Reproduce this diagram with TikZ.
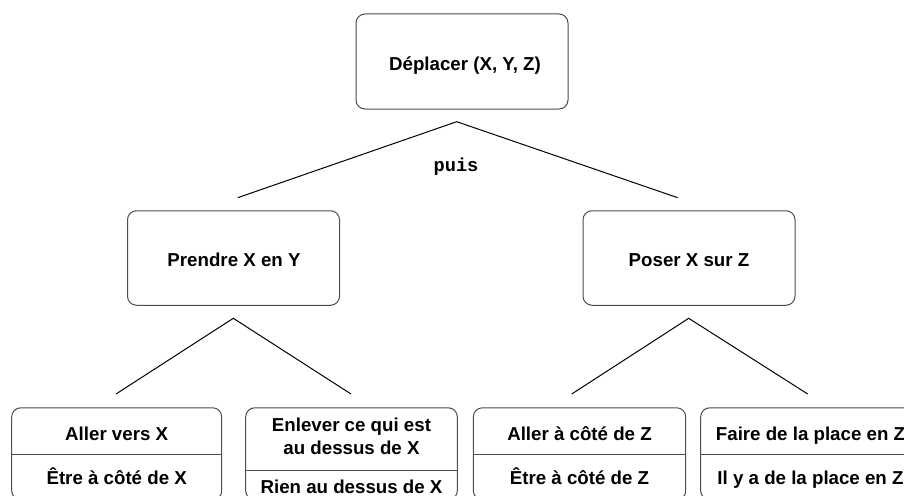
\documentclass[tikz,border=0pt]{standalone}
\usepackage{fontspec}
\setmainfont{Liberation Sans}
\setmonofont{Liberation Mono}
\usetikzlibrary{calc}
\begin{document}
\begin{tikzpicture}[x=1pt,y=-1pt,
  box/.style={draw=black!70, line width=1pt, rounded corners=9pt, minimum width=212pt, inner sep=0pt},
  lbl/.style={font=\fontsize{18.7}{22.6}\selectfont\bfseries, align=center, inner sep=0pt, anchor=base},
  divider/.style={draw=black!70, line width=1pt},
  link/.style={line width=1pt, draw=black}]
\useasboundingbox (0,0) rectangle (904,495);
% top
\node[box, minimum height=95pt] (top) at (462,61.5) {};
\node[lbl] (toptxt) at (465,70.7) {Déplacer (X, Y, Z)};
% middle
\node[box, minimum height=94.5pt] (pr) at (233.5,258) {};
\node[lbl] (prtxt) at (234,266.7) {Prendre X en Y};
\node[box, minimum height=94.5pt] (po) at (689,258) {};
\node[lbl] (potxt) at (689,266.7) {Poser X sur Z};
% connectors top
\coordinate (a0) at (456.7,121.7);
\coordinate (a0l) at (237.7,197.7);
\coordinate (a0r) at (677.7,197.7);
\draw[link] (a0l) -- (a0) -- (a0r);
\node[font=\fontsize{18.7}{22}\ttfamily\bfseries, inner sep=0pt, anchor=base] (puis) at (456,171.7) {puis};
% connectors lower
\coordinate (a1) at (233.3,318.3);
\coordinate (a1l) at (116,394);
\coordinate (a1r) at (351,394);
\draw[link] (a1l) -- (a1) -- (a1r);
\coordinate (a2) at (688.7,318.3);
\coordinate (a2l) at (571.7,394);
\coordinate (a2r) at (807.7,394);
\draw[link] (a2l) -- (a2) -- (a2r);
% bottom boxes
\node[box, minimum width=210pt, minimum height=92pt, anchor=north] (b1) at (116.7,407.3) {};
\node[box, minimum width=211.6pt, minimum height=92pt, anchor=north] (b2) at (351.5,407.3) {};
\node[box, minimum width=212.4pt, minimum height=92pt, anchor=north] (b3) at (579.5,407.3) {};
\node[box, minimum width=212pt, minimum height=92pt, anchor=north] (b4) at (806.7,407.3) {};
\draw[divider] (b1.west |- 0,454.3) -- (b1.east |- 0,454.3);
\draw[divider] (b2.west |- 0,470) -- (b2.east |- 0,470);
\draw[divider] (b3.west |- 0,454.3) -- (b3.east |- 0,454.3);
\draw[divider] (b4.west |- 0,454.3) -- (b4.east |- 0,454.3);
\node[lbl] (b1a) at (116.7,440) {Aller vers X};
\node[lbl] (b1b) at (116.7,484.3) {Être à côté de X};
\node[lbl] (b2a) at (351.5,454.3) {Enlever ce qui est\\au dessus de X};
\node[lbl] (b2b) at (351.5,493) {Rien au dessus de X};
\node[lbl] (b3a) at (579.5,440) {Aller à côté de Z};
\node[lbl] (b3b) at (579.5,484.3) {Être à côté de Z};
\node[lbl] (b4a) at (810.5,440) {Faire de la place en Z};
\node[lbl] (b4b) at (810.5,484.3) {Il y a de la place en Z};
\end{tikzpicture}
\end{document}
